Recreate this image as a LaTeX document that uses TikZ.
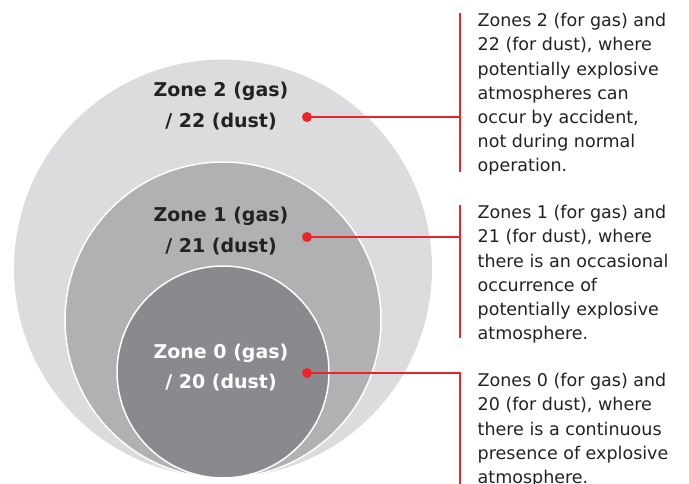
\documentclass[tikz,border=0pt]{standalone}
\usepackage{fontspec}
\setmainfont{DejaVu Sans}
\definecolor{zoneA}{HTML}{DCDCDE}
\definecolor{zoneB}{HTML}{B1B1B4}
\definecolor{zoneC}{HTML}{8A8A8E}
\definecolor{abbred}{HTML}{E9242A}
\definecolor{ink}{HTML}{222222}
\begin{document}
\begin{tikzpicture}[x=1pt,y=-1pt,
  zone/.style={circle,inner sep=0pt},
  zlabel/.style={font=\fontsize{19}{30.5}\selectfont\bfseries,align=center,text=ink},
  desc/.style={font=\fontsize{17.5}{24.2}\selectfont,align=left,text=ink,anchor=base west,inner sep=0pt},
  dot/.style={circle,fill=abbred,inner sep=0pt,minimum size=10pt},
  lead/.style={draw=abbred,line width=2pt},
  bar/.style={draw=abbred,line width=2pt}]
\useasboundingbox (0,0) rectangle (689,484);
\node[zone,fill=zoneA,minimum size=418pt] (z2) at (223,268.5) {};
\node[zone,fill=zoneB,draw=white,line width=1.5pt,minimum size=316pt] (z1) at (223,320) {};
\node[zone,fill=zoneC,draw=white,line width=1.5pt,minimum size=212pt] (z0) at (223,372) {};
\node[zlabel] (l2) at (221,106) {Zone 2 (gas)\\/ 22 (dust)};
\node[zlabel] (l1) at (221,231) {Zone 1 (gas)\\/ 21 (dust)};
\node[zlabel,text=white] (l0) at (221,367.5) {Zone 0 (gas)\\/ 20 (dust)};
\node[dot] (d2) at (307,117) {};
\node[dot] (d1) at (307,237) {};
\node[dot] (d0) at (307,373) {};
\coordinate (b2t) at (460,13);
\coordinate (b2b) at (460,172);
\coordinate (b1t) at (460,205);
\coordinate (b1b) at (460,338);
\coordinate (b0t) at (460,373);
\coordinate (b0b) at (460,484);
\draw[bar] (b2t) -- (b2b);
\draw[bar] (b1t) -- (b1b);
\draw[lead] (d2.center) -- (d2.center -| b2t);
\draw[lead] (d1.center) -- (d1.center -| b1t);
\draw[lead] (d0.center) -- (b0t) -- (b0b);
\node[desc] (t2) at (477.5,171.9) {Zones 2 (for gas) and\\22 (for dust), where\\potentially explosive\\atmospheres can\\occur by accident,\\not during normal\\operation.};
\node[desc] (t1) at (477.5,339.7) {Zones 1 (for gas) and\\21 (for dust), where\\there is an occasional\\occurrence of\\potentially explosive\\atmosphere.};
\node[desc] (t0) at (477.5,483.5) {Zones 0 (for gas) and\\20 (for dust), where\\there is a continuous\\presence of explosive\\atmosphere.};
\end{tikzpicture}
\end{document}
